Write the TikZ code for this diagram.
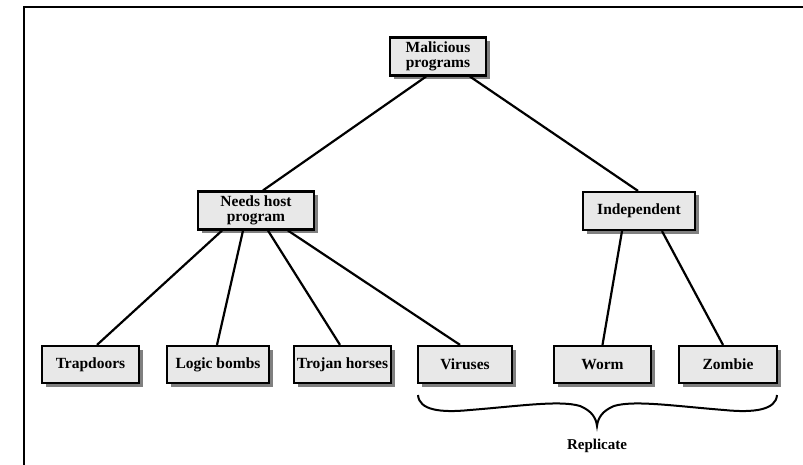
\documentclass[tikz,border=0pt]{standalone}
\usepackage{fontspec}
\setmainfont{Liberation Serif}
\usetikzlibrary{shadows}
\begin{document}
\begin{tikzpicture}[x=1pt,y=-1pt,
  box/.style={draw=black, line width=2.2pt, fill=black!9, inner sep=0pt,
    minimum height=38pt, align=center,
    font=\fontsize{15.5}{14.5}\selectfont\bfseries,
    drop shadow={shadow xshift=3.5pt, shadow yshift=-3.5pt, fill=black!50, opacity=1}},
  conn/.style={line width=2.2pt},
  lbl/.style={font=\fontsize{15}{14}\selectfont\bfseries}]
\useasboundingbox (0,0) rectangle (803,465);
\draw[line width=2.4pt] (24,465) -- (24,7) -- (803,7);
% nodes
\node[box, minimum width=96pt]  (mal)    at (438,56.5)  {Malicious\\programs};
\node[box, minimum width=116pt] (needs)  at (256,210.5) {Needs host\\program};
\node[box, minimum width=112pt] (indep)  at (639,211)   {Independent};
\node[box, minimum width=97pt, minimum height=37pt]  (trap)   at (90.5,364.5) {Trapdoors};
\node[box, minimum width=102pt, minimum height=37pt] (logic)  at (218,364.5)  {Logic bombs};
\node[box, minimum width=97pt, minimum height=37pt]  (trojan) at (342.5,364.5) {Trojan horses};
\node[box, minimum width=94pt, minimum height=37pt]  (virus)  at (465,364.5)  {Viruses};
\node[box, minimum width=97pt, minimum height=37pt]  (worm)   at (602.5,364.5) {Worm};
\node[box, minimum width=98pt, minimum height=37pt]  (zombie) at (728,364.5)  {Zombie};
% connectors
\draw[conn] ([xshift=-12pt]mal.south) -- ([xshift=7pt]needs.north);
\draw[conn] ([xshift=32pt]mal.south) -- ([xshift=-1pt]indep.north);
\draw[conn] ([xshift=-34pt]needs.south) -- ([xshift=6.5pt]trap.north);
\draw[conn] ([xshift=-13pt]needs.south) -- ([xshift=-1pt]logic.north);
\draw[conn] ([xshift=12pt]needs.south) -- ([xshift=-2.5pt]trojan.north);
\draw[conn] ([xshift=32pt]needs.south) -- ([xshift=-5pt]virus.north);
\draw[conn] ([xshift=-17pt]indep.south) -- ([xshift=0pt]worm.north);
\draw[conn] ([xshift=23pt]indep.south) -- ([xshift=-5pt]zombie.north);
% brace
\coordinate (bl) at (418,395);
\coordinate (br) at (777,395);
\coordinate (tip) at (597,426);
\draw[line width=2pt] (bl) .. controls (419,410) and (440,413) .. (470,410)
  .. controls (520,406) and (560,400) .. (580,406)
  .. controls (592,411) and (596,418) .. (tip)
  .. controls (598,418) and (602,411) .. (614,406)
  .. controls (634,400) and (674,406) .. (724,410)
  .. controls (754,413) and (776,410) .. (br);
\node[lbl] (rep) at (597,446) {Replicate};
\end{tikzpicture}
\end{document}
